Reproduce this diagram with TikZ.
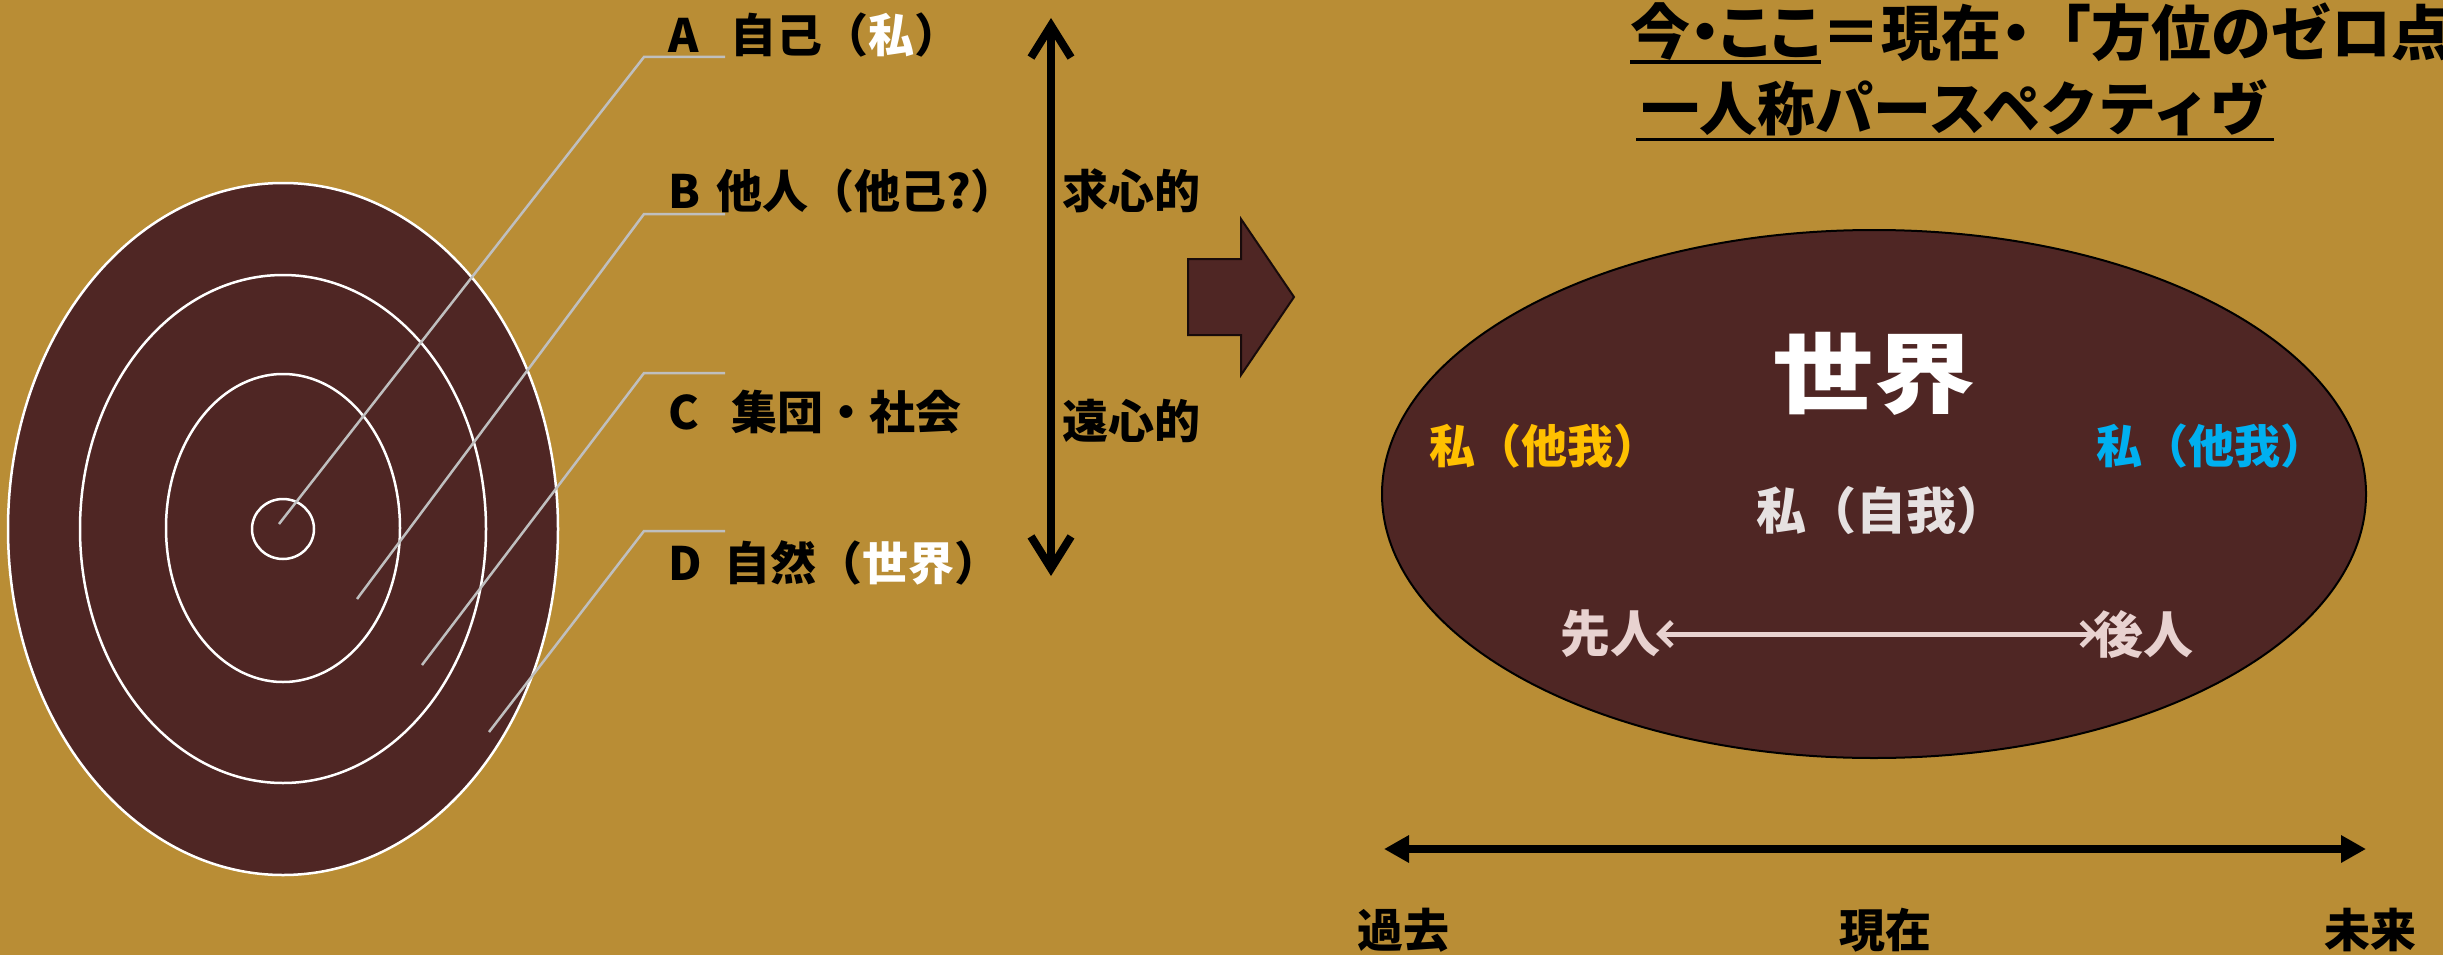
\documentclass[tikz,border=0pt]{standalone}
\usepackage{fontspec}
\usepackage{graphicx}
\setmainfont{Noto Sans CJK JP}
\usetikzlibrary{arrows.meta}
\definecolor{bg}{HTML}{B98D35}
\definecolor{dk}{HTML}{4F2624}
\definecolor{gry}{HTML}{BFBFBF}
\definecolor{gold}{HTML}{FFC000}
\definecolor{sky}{HTML}{00B0F0}
\definecolor{pale}{HTML}{E6E1E1}
\definecolor{pinkish}{HTML}{E8D2D0}
\newcommand{\fsz}[1]{\fontsize{#1}{#1}\selectfont}
\begin{document}
\begin{tikzpicture}[x=1pt,y=-1pt,
  lbl/.style={anchor=west,inner sep=0pt,font=\fsz{46}\bfseries},
  ring/.style={draw=white,line width=2.5pt},
  lead/.style={draw=gry,line width=2.5pt},
  side/.style={anchor=west,inner sep=0pt,font=\fsz{46}\bfseries},
  ttl/.style={anchor=west,inner sep=0pt,font=\fsz{60}\bfseries},
  ins/.style={inner sep=0pt,font=\fsz{#1}\bfseries},
  tm/.style={inner sep=0pt,font=\fsz{46}\bfseries},
  bigarrow/.style={line width=8pt},
]
\useasboundingbox (0,0) rectangle (2443,955);
\fill[bg] (0,0) rectangle (2443,955);

% concentric ellipses
\fill[dk] (283,529) ellipse [x radius=275, y radius=346];
\draw[ring] (283,529) ellipse [x radius=275, y radius=346];
\draw[ring] (283,529) ellipse [x radius=203, y radius=254];
\draw[ring] (283,528) ellipse [x radius=117, y radius=154];
\draw[ring] (283,529) ellipse [x radius=31, y radius=30];

% labels
\node[lbl] (la) at (668,35) {A\hspace{0.7em}自己（\textcolor{white}{私}）};
\node[lbl] (lb) at (668,191) {B\hspace{0.35em}他人（他己?）};
\node[lbl] (lc) at (668,412) {C\hspace{0.7em}集団・社会};
\node[lbl] (ld) at (668,563) {D\hspace{0.5em}自然（\textcolor{white}{世界}）};

% leader lines
\coordinate (pA) at (725,57);  \coordinate (eA) at (279,524);
\coordinate (pB) at (725,214); \coordinate (eB) at (357,599);
\coordinate (pC) at (725,373); \coordinate (eC) at (422,665);
\coordinate (pD) at (725,531); \coordinate (eD) at (489,732);
\draw[lead] (pA) -- ++(-81,0) -- (eA);
\draw[lead] (pB) -- ++(-81,0) -- (eB);
\draw[lead] (pC) -- ++(-81,0) -- (eC);
\draw[lead] (pD) -- ++(-81,0) -- (eD);

% vertical arrow
\coordinate (vt) at (1051,18);
\coordinate (vb) at (1051,576);
\draw[bigarrow,{Straight Barb[length=32pt,width=40pt]}-{Straight Barb[length=32pt,width=40pt]}] (vt) -- (vb);
\node[side] (kyu) at (1062,191) {求心的};
\node[side] (en) at (1062,421) {遠心的};

% block arrow
\filldraw[fill=dk, draw=black!70!dk, line width=2pt] (1188,259) -- (1241,259) -- (1241,219) -- (1294,297) -- (1241,375) -- (1241,335) -- (1188,335) -- cycle;

% title
\node[ttl] (t1a) at (1630,32) {\addfontfeature{RawFeature=+palt}今・ここ};
\node[ttl] (t1b) at (t1a.east) {＝現在\hspace{-0.25em}・\hspace{-0.25em}「方位のゼロ点};
\draw[line width=4pt] ([yshift=-1pt]t1a.south west) -- ([yshift=-1pt]t1a.south east);
\node[ttl,font=\fsz{58}\bfseries,inner xsep=5pt] (t2) at (1636,108) {一人称パースペクティヴ};
\draw[line width=3pt] ([yshift=-3pt]t2.south west) -- ([yshift=-3pt]t2.south east);

% world ellipse
\filldraw[fill=dk, draw=black, line width=2pt] (1874,494) ellipse [x radius=492, y radius=264];
\node[ins=88,text=white] (sekai) at (1874,374) {\scalebox{1.15}[1]{世界}};
\node[ins=46,text=gold] (tg1) at (1544,446) {私（他我）};
\node[ins=46,text=sky] (tg2) at (2211,446) {私（他我）};
\node[ins=50,text=pale] (jiga) at (1881,510) {私（自我）};
\node[ins=50,text=pinkish] (sen) at (1610,634) {先人};
\node[ins=50,text=pinkish] (kou) at (2143,634) {後人};
\draw[pinkish,line width=5pt,{Straight Barb[length=12pt,width=24pt]}-{Straight Barb[length=12pt,width=24pt]}] ([xshift=-4pt]sen.east) -- ([xshift=4pt]kou.west);

% timeline
\coordinate (tl) at (1384,849);
\coordinate (tr) at (2366,849);
\draw[bigarrow,{Triangle[length=25pt,width=26pt]}-{Triangle[length=25pt,width=26pt]}] (tl) -- (tr);
\node[tm] (past) at (1403,930) {過去};
\node[tm] (now) at (1885,930) {現在};
\node[tm] (fut) at (2370,930) {未来};
\end{tikzpicture}
\end{document}
